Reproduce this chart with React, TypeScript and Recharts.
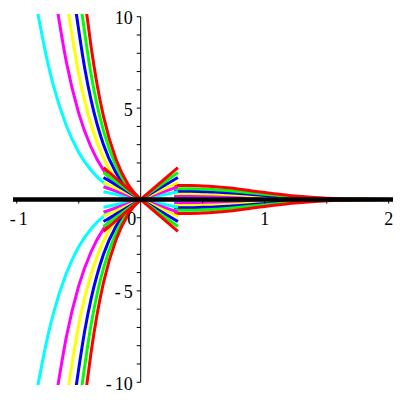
import { LineChart, Line, XAxis, YAxis, ReferenceLine } from 'recharts'

// left branch (x < 0), upper half as [x, y]
const cyanLeft = [[-0.83, 10.2], [-0.75, 7.49], [-0.7, 6.13], [-0.6, 4.05], [-0.5, 2.59], [-0.4, 1.6], [-0.3, 0.92], [-0.2, 0.47], [-0.1, 0.18], [0, 0]]
const magentaLeft = [[-0.668, 10.2], [-0.6, 7.54], [-0.5, 4.73], [-0.4, 2.86], [-0.3, 1.61], [-0.2, 0.81], [-0.1, 0.31], [0, 0]]
const yellowLeft = [[-0.582, 10.2], [-0.5, 6.88], [-0.45, 5.33], [-0.4, 4.09], [-0.3, 2.27], [-0.2, 1.13], [-0.1, 0.42], [0, 0]]
const blueLeft = [[-0.52, 10.2], [-0.45, 7.13], [-0.4, 5.44], [-0.3, 3.0], [-0.2, 1.48], [-0.1, 0.54], [0, 0]]
const greenLeft = [[-0.474, 10.2], [-0.4, 6.84], [-0.35, 5.12], [-0.3, 3.76], [-0.2, 1.84], [-0.1, 0.67], [0, 0]]
const redLeft = [[-0.436, 10.2], [-0.4, 8.36], [-0.35, 6.23], [-0.3, 4.55], [-0.2, 2.21], [-0.1, 0.8], [0, 0]]

// right branch (x > 0), upper half
const rightX = [0.27, 0.4, 0.5, 0.6, 0.7, 0.8, 0.9, 1.0, 1.1, 1.2, 1.3, 1.4, 1.5, 1.6, 1.8, 2.03]
const cyanRight = [0.13, 0.13, 0.12, 0.12, 0.11, 0.09, 0.08, 0.06, 0.05, 0.04, 0.03, 0.02, 0.01, 0.01, 0, 0]
const magentaRight = [0.22, 0.22, 0.21, 0.2, 0.18, 0.16, 0.13, 0.11, 0.09, 0.07, 0.05, 0.03, 0.02, 0.01, 0, 0]
const yellowRight = [0.33, 0.33, 0.32, 0.3, 0.27, 0.24, 0.2, 0.16, 0.13, 0.1, 0.07, 0.05, 0.03, 0.02, 0.01, 0]
const blueRight = [0.45, 0.45, 0.43, 0.41, 0.37, 0.33, 0.27, 0.22, 0.17, 0.13, 0.09, 0.06, 0.04, 0.02, 0.01, 0]
const greenRight = [0.59, 0.59, 0.57, 0.54, 0.49, 0.43, 0.36, 0.29, 0.23, 0.17, 0.12, 0.08, 0.05, 0.03, 0.01, 0]
const redRight = [0.76, 0.76, 0.74, 0.7, 0.64, 0.56, 0.47, 0.38, 0.3, 0.22, 0.16, 0.11, 0.07, 0.04, 0.01, 0]

// straight segments through the origin: x range and |y| at the ends
const segX = [-0.3, 0, 0.3]
const segEnd = [0.42, 0.69, 0.93, 1.2, 1.48, 1.75]

const zeroX = [-1.03, 2.04]

const xTicks = [-1, -0.5, 0, 0.5, 1, 1.5, 2]
const xLabels = [-1, 0, 1, 2]
const yTicks = [-10, -9, -8, -7, -6, -5, -4, -3, -2, -1, 0, 1, 2, 3, 4, 5, 6, 7, 8, 9, 10]
const yLabels = [-10, -5, 5, 10]

const colors = ['#00FFFF', '#FF00FF', '#FFFF00', '#0000FF', '#00FF00', '#FF0000']
const lefts = [cyanLeft, magentaLeft, yellowLeft, blueLeft, greenLeft, redLeft]
const rights = [cyanRight, magentaRight, yellowRight, blueRight, greenRight, redRight]

const X_MIN = -1.03
const X_MAX = 2.035
const Y_MIN = -10.15
const Y_MAX = 10.15
const W = 400
const H = 400
const PLOT = { top: 14, right: 7, bottom: 15, left: 13 }
const ORIGIN_X = PLOT.left + ((W - PLOT.left - PLOT.right) * (0 - X_MIN)) / (X_MAX - X_MIN)
const ORIGIN_Y = PLOT.top + ((H - PLOT.top - PLOT.bottom) * Y_MAX) / (Y_MAX - Y_MIN)
const FONT = '"Liberation Serif", "Times New Roman", serif'

function Label({ value, x, y, anchor }: { value: number; x: number; y: number; anchor: 'start' | 'middle' | 'end' }) {
  const abs = Math.abs(value)
  return (
    <text x={x} y={y} textAnchor={anchor} fontFamily={FONT} fontSize={18} fill="#000">
      {value < 0 ? (
        <>
          <tspan>-</tspan>
          <tspan dx={3}>{abs}</tspan>
        </>
      ) : (
        abs
      )}
    </text>
  )
}

function renderXTick(props: any) {
  const { x, payload } = props
  const v = payload.value as number
  const show = xLabels.includes(v)
  return (
    <g key={`xt${v}`}>
      {v !== 0 && <line x1={x} x2={x} y1={ORIGIN_Y} y2={ORIGIN_Y + 4} stroke="#000" strokeWidth={1} />}
      {show && <Label value={v} x={v === 0 ? x - 9 : v < 0 ? x + 2 : x} y={ORIGIN_Y + 25.5} anchor="middle" />}
    </g>
  )
}

function renderYTick(props: any) {
  const { y, payload } = props
  const v = payload.value as number
  const show = yLabels.includes(v)
  return (
    <g key={`yt${v}`}>
      <line x1={ORIGIN_X - 4} x2={ORIGIN_X} y1={y} y2={y} stroke="#000" strokeWidth={1} />
      {show && <Label value={v} x={ORIGIN_X - 8} y={y + 7.5} anchor="end" />}
    </g>
  )
}

const toPts = (pts: number[][], sign: number) => pts.map(([x, y]) => ({ x, y: sign * y }))
const toRight = (vals: number[], sign: number) => rightX.map((x, i) => ({ x, y: sign * vals[i] }))
const toSeg = (end: number, sign: number) => segX.map((x) => ({ x, y: (sign * end * x) / 0.3 }))

export default function App() {
  const zeroData = zeroX.map((x) => ({ x, y: 0 }))
  return (
    <div style={{ position: 'absolute', left: 0, top: 0, width: W, height: H, background: '#fff' }}>
      <LineChart width={W} height={H} margin={{ top: PLOT.top, right: PLOT.right, bottom: 0, left: 0 }}>
        <XAxis
          type="number"
          dataKey="x"
          domain={[X_MIN, X_MAX]}
          allowDataOverflow
          ticks={xTicks}
          interval={0}
          height={PLOT.bottom}
          axisLine={false}
          tickLine={false}
          tick={renderXTick}
        />
        <YAxis
          type="number"
          dataKey="y"
          domain={[Y_MIN, Y_MAX]}
          allowDataOverflow
          ticks={yTicks}
          interval={0}
          width={PLOT.left}
          axisLine={false}
          tickLine={false}
          tick={renderYTick}
        />
        <ReferenceLine segment={[{ x: 0, y: -10 }, { x: 0, y: 10 }]} stroke="#000" strokeWidth={1} />
        {colors.map((c, i) =>
          [1, -1].map((s) => (
            <Line
              key={`l${i}${s}`}
              data={toPts(lefts[i], s)}
              dataKey="y"
              type="monotone"
              stroke={c}
              strokeWidth={3}
              dot={false}
              activeDot={false}
              isAnimationActive={false}
            />
          ))
        )}
        {colors.map((c, i) =>
          [1, -1].map((s) => (
            <Line
              key={`r${i}${s}`}
              data={toRight(rights[i], s)}
              dataKey="y"
              type="monotone"
              stroke={c}
              strokeWidth={3}
              dot={false}
              activeDot={false}
              isAnimationActive={false}
            />
          ))
        )}
        {colors.map((c, i) =>
          [1, -1].map((s) => (
            <Line
              key={`s${i}${s}`}
              data={toSeg(segEnd[i], s)}
              dataKey="y"
              type="linear"
              stroke={c}
              strokeWidth={3}
              dot={false}
              activeDot={false}
              isAnimationActive={false}
            />
          ))
        )}
        <Line
          data={zeroData}
          dataKey="y"
          type="linear"
          stroke="#000"
          strokeWidth={4.5}
          dot={false}
          activeDot={false}
          isAnimationActive={false}
        />
      </LineChart>
    </div>
  )
}
